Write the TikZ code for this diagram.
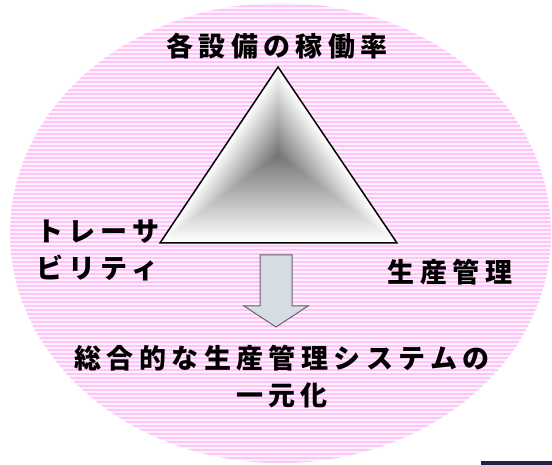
\documentclass[tikz,border=0pt]{standalone}
\usepackage{fontspec}
\newfontfamily\jpfont[LetterSpace=20]{Noto Sans CJK JP}
\usetikzlibrary{calc, positioning}
\definecolor{stripepink}{RGB}{255,196,248}
\definecolor{stripebg}{RGB}{255,240,253}
\definecolor{arrowfill}{RGB}{213,220,228}
\definecolor{barnavy}{RGB}{31,37,71}

\begin{document}
\begin{tikzpicture}[x=1pt, y=-1pt]
    \tikzset{label/.style={font=\jpfont\bfseries\fontsize{27pt}{37pt}\selectfont, text=black, inner sep=0pt}}
    \tikzset{stripe/.style={draw=stripepink, line width=2pt}}
    \tikzset{flow/.style={draw=black!60, fill=arrowfill, line width=1pt, line join=miter}}
    \useasboundingbox (0,0) rectangle (552,465);
    % Striped background ellipse
    \begin{scope}
    \clip (280.5,233) ellipse [x radius=270.5, y radius=230];
    \fill[stripebg] (0,0) rectangle (552,465);
    \foreach \y in {2,6,...,466}
        \draw[stripe] (0,\y) -- (552,\y);
    \end{scope}
    
    % Labels
    \node[label] (rate) at (277,46) {各設備の稼働率};
    \node[label, anchor=west, align=left] (trace) at (36,250) {トレーサ\\ビリティ};
    \node[label] (control) at (450,272) {生産管理};
    \node[label, align=center] (unify) at (282,377) {総合的な生産管理システムの\\一元化};
    
    % Shaded triangle
    \coordinate (top) at (278,67);
    \coordinate (left) at (160,243);
    \coordinate (right) at (397,243);
    \coordinate (mid) at (278,155);
    \foreach \i in {0,...,40} {
        \pgfmathsetmacro{\s}{1-\i/40}
        \pgfmathsetmacro{\k}{55*\i/40}
        \fill[black!\k] ($(mid)!\s!(top)$) -- ($(mid)!\s!(right)$) -- ($(mid)!\s!(left)$) -- cycle;
    }
    \draw[line width=1.5pt, line join=miter] (top) -- (right) -- (left) -- cycle;
    
    % Down arrow
    \draw[flow] (260,255) -- (292,255) -- (292,306) -- (308,306) -- (276,327)
        -- (244,306) -- (260,306) -- cycle;
    
    % Corner bar
    \fill[barnavy] (481,461) rectangle (552,465);
\end{tikzpicture}
\end{document}
